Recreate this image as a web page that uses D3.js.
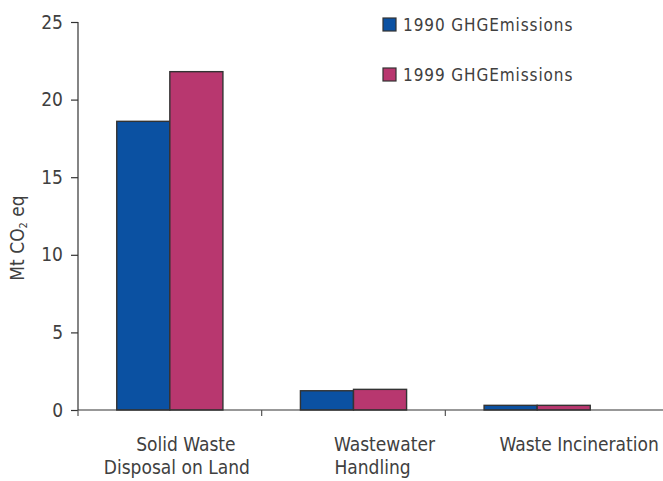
<!DOCTYPE html>
<html>
<head>
<meta charset="utf-8">
<script src="https://cdn.jsdelivr.net/npm/d3@7"></script>
<style>
  html, body { margin: 0; padding: 0; background: #fff; }
  svg { display: block; }
  text { font-family: "Liberation Sans Narrow", "DejaVu Sans Condensed", "Liberation Sans", sans-serif; fill: #404040; }
</style>
</head>
<body>
<svg id="chart" width="663" height="481"></svg>
<script>
// Greenhouse gas emissions from the waste sector (Mt CO2 eq)
const categories = ["Solid Waste Disposal on Land", "Wastewater Handling", "Waste Incineration"];
const categoryLines = [["Solid Waste", "Disposal on Land"], ["Wastewater", "Handling"], ["Waste Incineration"]];
const seriesNames = ["1990 GHGEmissions", "1999 GHGEmissions"];
const emissions1990 = [18.6, 1.24, 0.3];
const emissions1999 = [21.8, 1.33, 0.3];
const yTicks = [0, 5, 10, 15, 20, 25];

const colors = ["#0b51a2", "#b8376f"];
const seriesValues = [emissions1990, emissions1999];

const svg = d3.select("#chart");
const plotLeft = 78, plotRight = 629, plotTop = 22, plotBottom = 410;

const y = d3.scaleLinear().domain([0, 25]).range([plotBottom, plotTop]);
const x = d3.scaleBand().domain(categories).range([plotLeft, plotRight]).padding(0);
const xs = d3.scaleBand().domain(seriesNames).range([0, x.bandwidth()])
  .paddingInner(0).paddingOuter(0.73);

// bars
categories.forEach((c, i) => {
  seriesNames.forEach((s, j) => {
    const v = seriesValues[j][i];
    svg.append("rect")
      .attr("x", x(c) + xs(s))
      .attr("y", y(v))
      .attr("width", xs.bandwidth())
      .attr("height", y(0) - y(v))
      .attr("fill", colors[j])
      .attr("stroke", "#333")
      .attr("stroke-width", 1.4);
  });
});

// y axis
const yAxis = svg.append("g").attr("transform", `translate(${plotLeft},0)`)
  .call(d3.axisLeft(y).tickValues(yTicks).tickSize(7).tickPadding(8).tickFormat(d3.format("d")));
yAxis.attr("font-family", null).attr("font-size", null);
yAxis.select(".domain").attr("stroke", "#333").attr("stroke-width", 1.2).attr("d", `M0,${plotTop}V${plotBottom}`);
yAxis.selectAll(".tick line").attr("stroke", "#333").attr("stroke-width", 1.2);
yAxis.selectAll(".tick text").attr("font-size", 19).attr("fill", "#404040");

// x axis baseline and category dividers
svg.append("line").attr("x1", plotLeft).attr("x2", 663).attr("y1", y(0)).attr("y2", y(0))
  .attr("stroke", "#333").attr("stroke-width", 1.2);
categories.forEach(c => {
  svg.append("line").attr("x1", x(c)).attr("x2", x(c)).attr("y1", y(0)).attr("y2", y(0) + 6)
    .attr("stroke", "#555").attr("stroke-width", 1.2);
});

// category labels
const labelDx = [[16, 7], [31, 19], [42]];
const lineY = [451, 474];
categoryLines.forEach((lines, i) => {
  const cx = x(categories[i]) + x.bandwidth() / 2;
  lines.forEach((t, k) => {
    svg.append("text")
      .attr("x", cx + labelDx[i][k])
      .attr("y", lineY[k])
      .attr("text-anchor", "middle")
      .attr("font-size", 19)
      .text(t);
  });
});

// y axis title
const title = svg.append("text")
  .attr("transform", "translate(24,238) rotate(-90)")
  .attr("text-anchor", "middle")
  .attr("font-size", 19);
title.append("tspan").text("Mt CO");
title.append("tspan").attr("font-size", 11).attr("dy", 3).text("2");
title.append("tspan").attr("dy", -3).text(" eq");

// legend
const legendY = [18, 68];
seriesNames.forEach((s, j) => {
  svg.append("rect").attr("x", 383).attr("y", legendY[j]).attr("width", 13).attr("height", 13)
    .attr("fill", colors[j]).attr("stroke", "#333").attr("stroke-width", 1.2);
  svg.append("text").attr("x", 403).attr("y", legendY[j] + 13)
    .attr("font-size", 17).attr("letter-spacing", 0.9).text(s);
});
</script>
</body>
</html>
